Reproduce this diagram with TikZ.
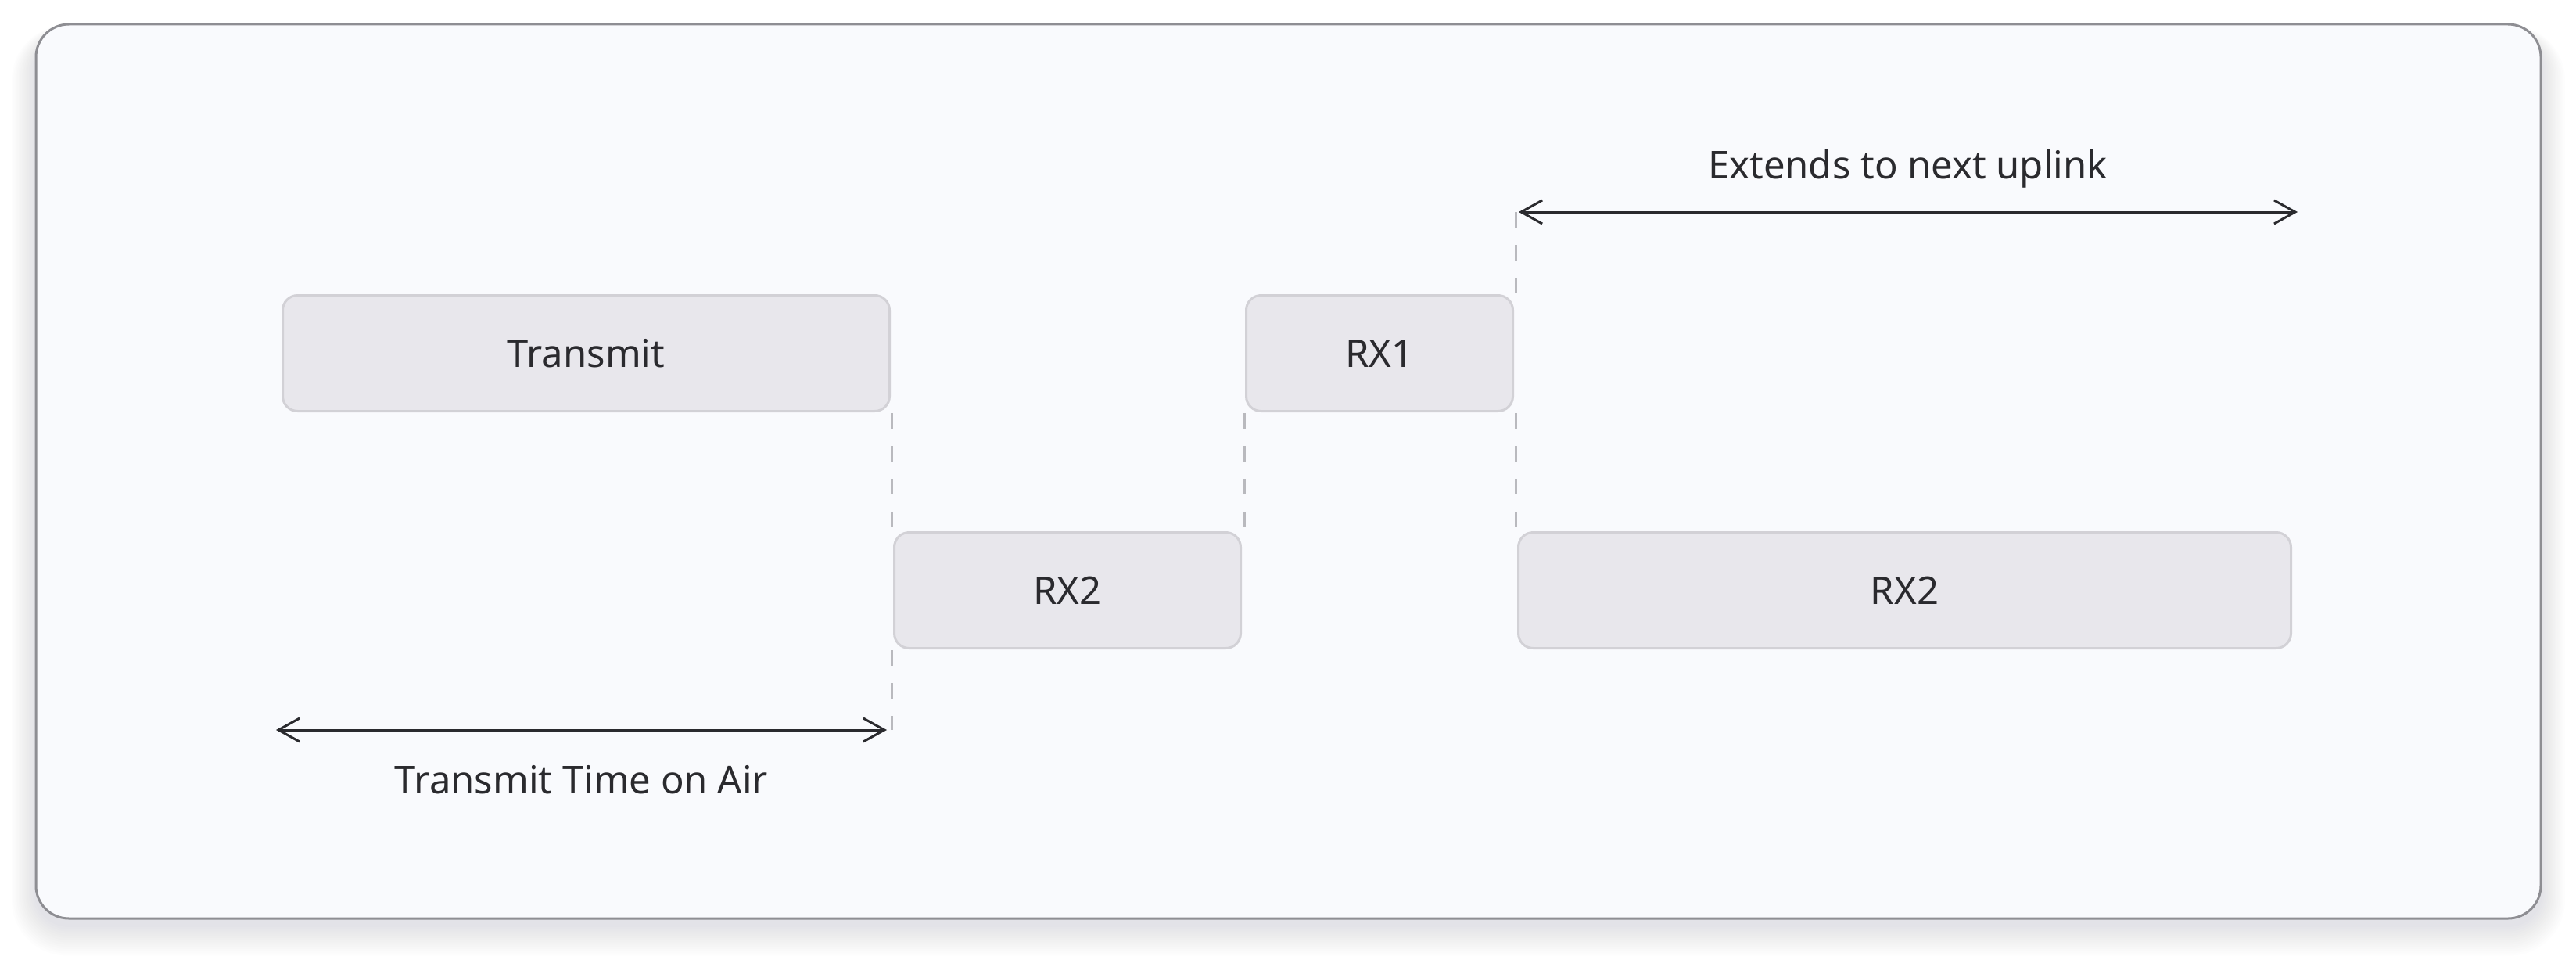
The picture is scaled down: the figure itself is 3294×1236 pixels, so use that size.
\documentclass[tikz,border=0pt]{standalone}
\usepackage{fontspec}
\setmainfont{Noto Sans}
\usetikzlibrary{arrows.meta}
\definecolor{framefill}{HTML}{F9FAFD}
\definecolor{frameline}{HTML}{8E8E93}
\definecolor{boxfill}{HTML}{E8E7EC}
\definecolor{boxline}{HTML}{D2D1D6}
\definecolor{ink}{HTML}{2A2A2E}
\definecolor{dashc}{HTML}{B9B9BE}
\definecolor{shadowc}{HTML}{8C93AE}
\tikzset{
  slot/.style={draw=boxline, fill=boxfill, line width=3pt, rounded corners=19pt,
    inner sep=0pt, minimum height=148pt, text=ink, text height=35pt, text depth=0pt,
    font=\fontsize{49}{58}\selectfont},
  lbl/.style={text=ink, inner sep=0pt, anchor=base, font=\fontsize{49}{58}\selectfont},
  guide/.style={draw=dashc, line width=3pt, dash pattern=on 20pt off 22pt},
  span/.style={draw=ink, line width=3pt,
    {Straight Barb[length=27pt, width=30pt, line width=3pt]}-{Straight Barb[length=27pt, width=30pt, line width=3pt]}}
}
\begin{document}
\begin{tikzpicture}[x=1pt, y=-1pt]
\useasboundingbox (0,0) rectangle (3294,1236);
\fill[white] (0,0) rectangle (3294,1236);
% soft shadow of the frame
\foreach \i in {1,...,14} {
  \fill[shadowc, opacity=0.016, rounded corners={42pt+\i*2pt}]
    (46-\i*2.2, 31+14-\i*0.9) rectangle (3249+\i*2.2, 1174+8+\i*2.8);
}
\draw[fill=framefill, draw=frameline, line width=3pt, rounded corners=42pt]
  (46,31) rectangle (3249,1174);

% slots
\node[slot, minimum width=776pt] (tx)  at (749.5,451.5) {Transmit};
\node[slot, minimum width=443pt] (rx2a) at (1365,754.5) {RX2};
\node[slot, minimum width=341pt] (rx1) at (1764,451.5) {RX1};
\node[slot, minimum width=988pt] (rx2b) at (2435.5,754.5) {RX2};

% guide lines
\coordinate (txend) at (1140,933);
\coordinate (uptop) at (1938,271);
\draw[guide] (1140,528) -- (1140,679);
\draw[guide] (1140,831) -- (txend);
\draw[guide] (1591,528) -- (1591,679);
\draw[guide] (uptop) -- (1938,376);
\draw[guide] (1938,528) -- (1938,679);

% spans
\coordinate (a1) at (353,933);
\coordinate (a2) at (1134,933);
\coordinate (b1) at (1942,271);
\coordinate (b2) at (2938,271);
\draw[span] (a1) -- (a2);
\draw[span] (b1) -- (b2);
\node[lbl] (ltoa) at (743.5,1014) {Transmit Time on Air};
\node[lbl] (lext) at (2439.5,228) {Extends to next uplink};
\end{tikzpicture}
\end{document}
